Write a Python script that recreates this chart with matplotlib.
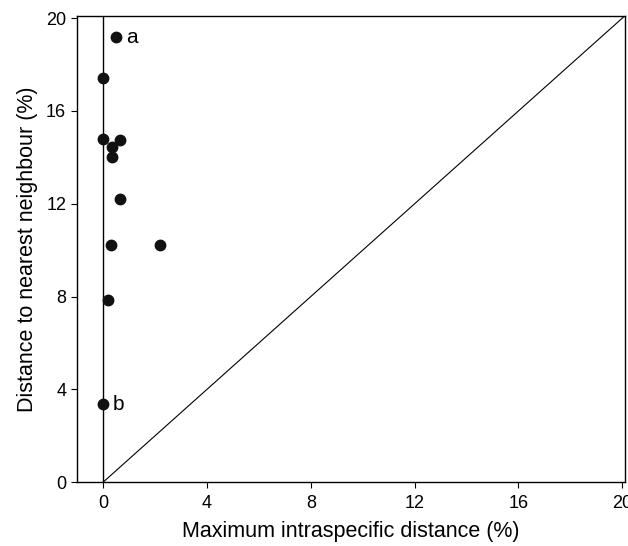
import matplotlib
matplotlib.use("Agg")
import matplotlib.pyplot as plt

plt.rcParams['font.family'] = ['Liberation Sans', 'DejaVu Sans']

max_intra = [0.5, 0.0, 0.0, 0.63, 0.33, 0.33, 0.63, 0.3, 2.17, 0.17, 0.0]
nearest = [19.17, 17.44, 14.81, 14.74, 14.45, 14.02, 12.2, 10.2, 10.2, 7.87, 3.36]
labels = {0: "a", 10: "b"}
xticks = [0, 4, 8, 12, 16, 20]
yticks = [0, 4, 8, 12, 16, 20]

fig = plt.figure(figsize=(6.28, 5.46), dpi=100)
ax = fig.add_axes([0.123, 0.117, 0.872, 0.854])

ax.plot([0, 20.5], [0, 20.5], color='black', lw=0.8, zorder=1)
ax.axvline(0, color='black', lw=1.0, zorder=1)
ax.plot(max_intra, nearest, 'o', color='#111111', markersize=7.5, zorder=3)
for i, t in labels.items():
    ax.annotate(t, (max_intra[i], nearest[i]), xytext=(7, 0), textcoords='offset points',
                va='center', ha='left', fontsize=15)

ax.set_xlim(-1, 20.1)
ax.set_ylim(0, 20.1)
ax.set_xticks(xticks)
ax.set_yticks(yticks)
ax.tick_params(direction='out', length=4.5, labelsize=13)
ax.tick_params(axis='x', pad=5)
ax.set_xlabel("Maximum intraspecific distance (%)", fontsize=15.5, labelpad=6)
ax.set_ylabel("Distance to nearest neighbour (%)", fontsize=15.5, labelpad=6)
for s in ax.spines.values():
    s.set_linewidth(1.0)

fig.savefig("out.png", dpi=100)
